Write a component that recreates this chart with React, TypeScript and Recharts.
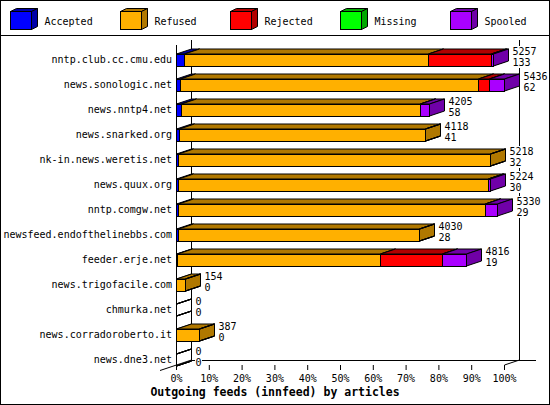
import { BarChart, Bar, XAxis, YAxis, Legend, LabelList, Customized } from 'recharts'

const feeds = [
  'nntp.club.cc.cmu.edu',
  'news.sonologic.net',
  'news.nntp4.net',
  'news.snarked.org',
  'nk-in.news.weretis.net',
  'news.quux.org',
  'nntp.comgw.net',
  'newsfeed.endofthelinebbs.com',
  'feeder.erje.net',
  'news.trigofacile.com',
  'chmurka.net',
  'news.corradoroberto.it',
  'news.dne3.net',
]

// percent of offered articles
const accepted = [2.5, 1.1, 1.4, 1.0, 0.6, 0.6, 0.5, 0.7, 0.4, 0, 0, 0, 0]
const refused = [74.3, 91.0, 73.1, 74.8, 95.2, 94.5, 93.7, 73.4, 61.9, 2.7, 0, 7.1, 0]
const rejected = [19.3, 3.3, 0, 0, 0, 0, 0, 0.1, 18.9, 0, 0, 0, 0]
const missing = [0, 0, 0, 0, 0, 0, 0, 0, 0, 0, 0, 0, 0]
const spooled = [0.6, 4.6, 2.7, 0, 0, 0.7, 3.7, 0, 7.2, 0, 0, 0, 0]

// numbers printed after each bar
const offeredCounts = [5257, 5436, 4205, 4118, 5218, 5224, 5330, 4030, 4816, 154, 0, 387, 0]
const acceptedCounts = [133, 62, 58, 41, 32, 30, 29, 28, 19, 0, 0, 0, 0]

const xTicks = [0, 10, 20, 30, 40, 50, 60, 70, 80, 90, 100]

const SERIES = [
  { key: 'accepted', name: 'Accepted', values: accepted, front: '#0000ff', dark: '#0000a8' },
  { key: 'refused', name: 'Refused', values: refused, front: '#ffb000', dark: '#b07800' },
  { key: 'rejected', name: 'Rejected', values: rejected, front: '#ff0000', dark: '#b00000' },
  { key: 'missing', name: 'Missing', values: missing, front: '#00ff00', dark: '#00a800' },
  { key: 'spooled', name: 'Spooled', values: spooled, front: '#aa00ff', dark: '#7000a8' },
]

const data = feeds.map((name, i) => {
  const row: Record<string, string | number> = { name }
  SERIES.forEach(s => { row[s.key] = s.values[i] })
  return row
})

// layout
const W = 550
const H = 405
const LEGEND_H = 36
const PLOT_LEFT = 176.5
const PLOT_RIGHT = 504.5
const PLOT_TOP = 40
const PLOT_BOTTOM = 365
const DX = 15
const DY = 5
const BAR_H = 12
const BAR_SHIFT = 7
const FONT = "'DejaVu Sans Mono', monospace"

const snap = (v: number) => Math.round(v - 0.5) + 0.5

function Bar3D(props: any) {
  const { x, y, width, front, dark } = props
  if (x == null || y == null) return null
  const x0 = snap(x)
  const x1 = snap(x + (width || 0))
  const top = y + BAR_SHIFT
  const bot = top + BAR_H
  const side = `${x1},${top} ${x1 + DX},${top - DY} ${x1 + DX},${bot - DY} ${x1},${bot}`
  if (x1 - x0 < 0.5) {
    // empty slot: only the outline of the end face
    return <polygon points={side} fill="none" stroke="#000" />
  }
  return (
    <g stroke="#000" strokeWidth={1}>
      <polygon points={`${x0},${top} ${x1},${top} ${x1 + DX},${top - DY} ${x0 + DX},${top - DY}`} fill={dark} />
      <polygon points={side} fill={dark} />
      <rect x={x0} y={top} width={x1 - x0} height={BAR_H} fill={front} shapeRendering="crispEdges" />
    </g>
  )
}

function EndLabel(props: any) {
  const { x, y, width, index } = props
  if (x == null || index == null) return null
  const tx = snap(x + (width || 0)) + DX + 4
  const top = y + BAR_SHIFT
  const a = String(offeredCounts[index])
  const b = String(acceptedCounts[index])
  const w = Math.max(a.length, b.length) * 6 + 1
  return (
    <g>
      <rect x={tx - 0.5} y={top - 8} width={w} height={22} fill="#fff" />
      <text x={tx} y={top + 1} fontSize={10} fontFamily={FONT} fill="#000">{a}</text>
      <text x={tx} y={top + 11.5} fontSize={10} fontFamily={FONT} fill="#000">{b}</text>
    </g>
  )
}

function Frame() {
  return (
    <g stroke="#000" strokeWidth={1} fill="none" shapeRendering="crispEdges">
      <rect x={0.5} y={0.5} width={W - 1} height={H - 1} />
      <line x1={0} y1={35.5} x2={W} y2={35.5} />
      <line x1={PLOT_LEFT} y1={PLOT_TOP + DY} x2={PLOT_LEFT} y2={PLOT_BOTTOM} />
      <line x1={PLOT_LEFT + DX} y1={PLOT_TOP} x2={PLOT_LEFT + DX} y2={PLOT_BOTTOM - DY} />
      <line x1={PLOT_RIGHT + DX} y1={PLOT_TOP} x2={PLOT_RIGHT + DX} y2={PLOT_BOTTOM - DY} />
      <line x1={PLOT_LEFT + DX} y1={PLOT_BOTTOM - DY + 0.5} x2={PLOT_RIGHT + DX + 16} y2={PLOT_BOTTOM - DY + 0.5} />
      <line x1={PLOT_LEFT - 16.5} y1={PLOT_BOTTOM + 5.5} x2={PLOT_LEFT + DX} y2={PLOT_BOTTOM - DY} shapeRendering="auto" />
      <line x1={PLOT_RIGHT} y1={PLOT_BOTTOM} x2={PLOT_RIGHT + DX} y2={PLOT_BOTTOM - DY} shapeRendering="auto" />
      <text x={W / 2} y={395.5} textAnchor="middle" fontSize={11.5} fontWeight="bold" fontFamily={FONT}
        fill="#000" stroke="none">Outgoing feeds (innfeed) by articles</text>
    </g>
  )
}

function LegendBoxes() {
  return (
    <svg width={W} height={LEGEND_H} style={{ display: 'block' }}>
      {SERIES.map((s, i) => {
        const bx = 10.5 + i * 110
        const by = 11.5
        const bw = 21
        const bh = 18
        const d = 6
        const dy = 3
        return (
          <g key={s.key} stroke="#000" strokeWidth={1}>
            <polygon points={`${bx},${by} ${bx + bw},${by} ${bx + bw + d},${by - dy} ${bx + d},${by - dy}`} fill={s.dark} />
            <polygon points={`${bx + bw},${by} ${bx + bw + d},${by - dy} ${bx + bw + d},${by + bh - dy} ${bx + bw},${by + bh}`} fill={s.dark} />
            <rect x={bx} y={by} width={bw} height={bh} fill={s.front} shapeRendering="crispEdges" />
            <text x={44.5 + i * 110} y={24.5} fontSize={10} fontFamily={FONT} fill="#000" stroke="none">{s.name}</text>
          </g>
        )
      })}
    </svg>
  )
}

const XTick = ({ x, y, payload }: any) => (
  <text x={x} y={y + 10} textAnchor="middle" fontSize={10} fontFamily={FONT} fill="#000">{payload.value}%</text>
)

const YTick = ({ x, y, payload }: any) => (
  <text x={x} y={y + 10} textAnchor="end" fontSize={10} fontFamily={FONT} fill="#000">{payload.value}</text>
)

export default function App() {
  return (
    <div style={{ width: W, height: H, background: '#fff' }}>
      <style>{'body{margin:0}'}</style>
      <BarChart width={W} height={H} data={data} layout="vertical" barSize={BAR_H}
        margin={{ top: PLOT_TOP - LEGEND_H, right: W - PLOT_RIGHT, bottom: 0, left: 0.5 }}>
        <Customized component={Frame} />
        <XAxis type="number" domain={[0, 100]} ticks={xTicks} height={H - PLOT_BOTTOM}
          axisLine={false} tickLine={{ stroke: '#000' }} tickSize={5} tick={<XTick />} interval={0} />
        <YAxis type="category" dataKey="name" width={PLOT_LEFT - 0.5} axisLine={false} tickLine={false}
          tickSize={0} tickMargin={4.5} tick={<YTick />} interval={0} />
        <Legend verticalAlign="top" align="left" content={() => <LegendBoxes />}
          wrapperStyle={{ top: 0, left: 0, width: W, height: LEGEND_H }} />
        {SERIES.map((s, i) => (
          <Bar key={s.key} dataKey={s.key} name={s.name} stackId="a" fill={s.front} isAnimationActive={false}
            shape={(p: any) => <Bar3D {...p} front={s.front} dark={s.dark} />}>
            {i === SERIES.length - 1 && <LabelList dataKey={s.key} content={<EndLabel />} />}
          </Bar>
        ))}
      </BarChart>
    </div>
  )
}
